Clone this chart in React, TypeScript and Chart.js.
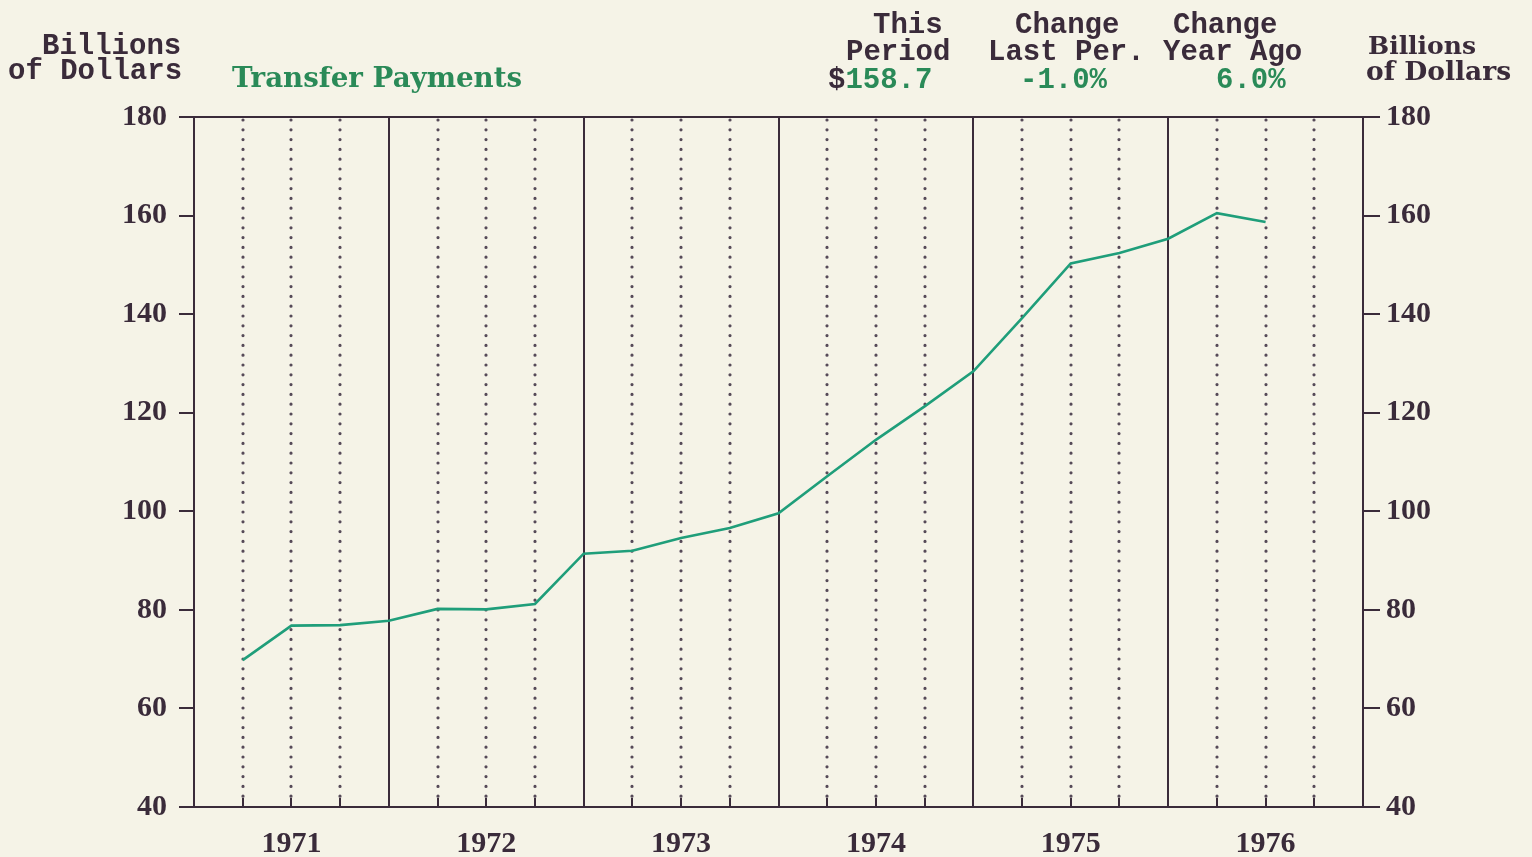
import React, { useEffect, useRef } from 'react';
import { Chart, registerables } from 'chart.js';

Chart.register(...registerables);

// ---- data ----
const quarterLabels = [
  '1971 Q1', '1971 Q2', '1971 Q3', '1971 Q4',
  '1972 Q1', '1972 Q2', '1972 Q3', '1972 Q4',
  '1973 Q1', '1973 Q2', '1973 Q3', '1973 Q4',
  '1974 Q1', '1974 Q2', '1974 Q3', '1974 Q4',
  '1975 Q1', '1975 Q2', '1975 Q3', '1975 Q4',
  '1976 Q1', '1976 Q2',
];
const quarterPositions = [1, 2, 3, 4, 5, 6, 7, 8, 9, 10, 11, 12, 13, 14, 15, 16, 17, 18, 19, 20, 21, 22];
const transferPayments = [
  69.8, 76.8, 76.9, 77.8, 80.2, 80.1, 81.2, 91.4, 92.0, 94.6, 96.6,
  99.6, 107.1, 114.5, 121.3, 128.4, 139.2, 150.3, 152.4, 155.3, 160.5, 158.7,
];
const yearLabels = ['1971', '1972', '1973', '1974', '1975', '1976'];
const yMin = 40;
const yMax = 180;
const yStep = 20;

const DARK = '#3a2b3a';
const DOT = '#564a58';
const LINE = '#1f9e7a';
const GREEN = '#2a8a58';
const BG = '#f5f3e7';

const gridPlugin = {
  id: 'plotterGrid',
  beforeDatasetsDraw(chart: any) {
    const { ctx, chartArea: a, scales } = chart;
    const xs = scales.x;
    ctx.save();
    xs.ticks.forEach((t: any) => {
      const v = t.value;
      if (v <= xs.min || v >= xs.max) return;
      const px = Math.round(xs.getPixelForValue(v));
      if (v % 4 === 0) {
        ctx.setLineDash([]);
        ctx.lineWidth = 2;
        ctx.strokeStyle = DARK;
        ctx.beginPath();
        ctx.moveTo(px, a.top);
        ctx.lineTo(px, a.bottom);
        ctx.stroke();
      } else {
        ctx.setLineDash([0, 9.8]);
        ctx.lineCap = 'round';
        ctx.lineWidth = 3.2;
        ctx.strokeStyle = DOT;
        ctx.beginPath();
        ctx.moveTo(px, a.top + 3);
        ctx.lineTo(px, a.bottom - 10);
        ctx.stroke();
        ctx.setLineDash([]);
        ctx.lineCap = 'butt';
        ctx.lineWidth = 2;
        ctx.strokeStyle = DARK;
        ctx.beginPath();
        ctx.moveTo(px, a.bottom - 9);
        ctx.lineTo(px, a.bottom);
        ctx.stroke();
      }
    });
    ctx.setLineDash([]);
    ctx.lineWidth = 2;
    ctx.strokeStyle = DARK;
    ctx.beginPath();
    ctx.moveTo(a.left, a.top);
    ctx.lineTo(a.right, a.top);
    ctx.moveTo(a.left, a.bottom);
    ctx.lineTo(a.right, a.bottom);
    ctx.stroke();
    ctx.restore();
  },
};

type TxtProps = {
  x: number;
  baseline: number;
  mono?: boolean;
  size?: number;
  color?: string;
  children: React.ReactNode;
};

function Txt({ x, baseline, mono, size = 29, color = DARK, children }: TxtProps) {
  const k = mono ? 0.765 : 0.847;
  return (
    <div
      style={{
        position: 'absolute',
        left: x,
        top: baseline - k * size,
        fontFamily: mono ? '"Liberation Mono", monospace' : '"DejaVu Serif", serif',
        fontWeight: 'bold',
        fontSize: size,
        lineHeight: `${size}px`,
        color,
        whiteSpace: 'pre',
      }}
    >
      {children}
    </div>
  );
}

export default function App() {
  const canvasRef = useRef<HTMLCanvasElement | null>(null);

  useEffect(() => {
    const canvas = canvasRef.current;
    if (!canvas) return;
    const tickFont = { family: '"Liberation Serif", serif', size: 30, weight: 'bold' as const };
    const yearFont = { family: '"Liberation Serif", serif', size: 30, weight: 'bold' as const };
    const chart = new Chart(canvas, {
      type: 'line',
      data: {
        labels: quarterLabels,
        datasets: [
          {
            label: 'Transfer Payments',
            data: quarterPositions.map((q, i) => ({ x: q, y: transferPayments[i] })),
            borderColor: LINE,
            borderWidth: 2.6,
            pointRadius: 0,
            tension: 0,
            fill: false,
            yAxisID: 'y',
          },
        ],
      },
      options: {
        responsive: false,
        animation: false,
        devicePixelRatio: 1,
        layout: { padding: { top: 117, left: 0, right: 0, bottom: 0 } },
        plugins: { legend: { display: false }, tooltip: { enabled: false }, title: { display: false } },
        scales: {
          x: {
            type: 'linear',
            min: 0,
            max: 24,
            afterFit: (s: any) => {
              s.height = 50;
            },
            ticks: {
              stepSize: 1,
              autoSkip: false,
              maxRotation: 0,
              minRotation: 0,
              padding: 19,
              color: DARK,
              font: yearFont,
              callback: (value: any) => {
                const v = Number(value);
                if ((v - 2) % 4 === 0) return yearLabels[(v - 2) / 4] ?? '';
                return '';
              },
            },
            grid: { display: false, drawTicks: false },
            border: { display: false },
          },
          y: {
            position: 'left',
            min: yMin,
            max: yMax,
            afterFit: (s: any) => {
              s.width = 194;
            },
            ticks: { stepSize: yStep, color: DARK, font: tickFont, padding: 12 },
            grid: { drawOnChartArea: false, drawTicks: true, tickLength: 15, color: DARK, lineWidth: 2 },
            border: { display: true, color: DARK, width: 2 },
          },
          y2: {
            position: 'right',
            display: true,
            min: yMin,
            max: yMax,
            afterFit: (s: any) => {
              s.width = 169;
            },
            ticks: { stepSize: yStep, color: DARK, font: tickFont, padding: 6 },
            grid: { drawOnChartArea: false, drawTicks: true, tickLength: 17, color: DARK, lineWidth: 2 },
            border: { display: true, color: DARK, width: 2 },
          },
        },
      },
      plugins: [gridPlugin],
    });
    return () => chart.destroy();
  }, []);

  return (
    <div
      style={{
        position: 'fixed',
        left: 0,
        top: 0,
        width: 1532,
        height: 857,
        background: BG,
        overflow: 'hidden',
      }}
    >
      <canvas ref={canvasRef} width={1532} height={857} style={{ position: 'absolute', left: 0, top: 0 }} />
      <Txt x={42} baseline={54} mono>Billions</Txt>
      <Txt x={8} baseline={79} mono>of Dollars</Txt>
      <Txt x={232} baseline={87} size={27.7} color={GREEN}>Transfer Payments</Txt>

      <Txt x={873} baseline={33} mono>This</Txt>
      <Txt x={846} baseline={60} mono>Period</Txt>
      <Txt x={828} baseline={88} mono color={GREEN}>
        <span style={{ color: DARK }}>$</span>158.7
      </Txt>

      <Txt x={1015} baseline={33} mono>Change</Txt>
      <Txt x={988} baseline={60} mono>Last Per.</Txt>
      <Txt x={1020} baseline={88} mono color={GREEN}>-1.0%</Txt>

      <Txt x={1173} baseline={33} mono>Change</Txt>
      <Txt x={1163} baseline={60} mono>Year Ago</Txt>
      <Txt x={1216} baseline={88} mono color={GREEN}>6.0%</Txt>

      <Txt x={1368} baseline={54} size={25}>Billions</Txt>
      <Txt x={1366} baseline={80} size={26.5}>of Dollars</Txt>
    </div>
  );
}
